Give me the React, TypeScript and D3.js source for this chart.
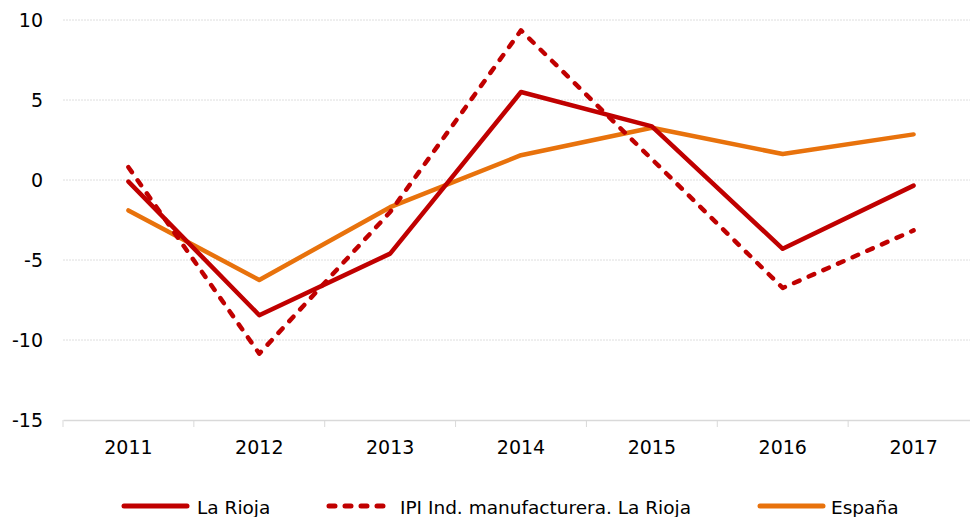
import React, { useEffect, useRef } from 'react';
import * as d3 from 'd3';

const years = ['2011', '2012', '2013', '2014', '2015', '2016', '2017'];
const laRioja = [-0.1, -8.45, -4.6, 5.5, 3.35, -4.3, -0.35];
const ipiManuf = [0.8, -10.85, -2.0, 9.35, 1.3, -6.75, -3.15];
const espana = [-1.9, -6.25, -1.7, 1.55, 3.27, 1.62, 2.85];
const yTicks = [10, 5, 0, -5, -10, -15];

const RED = '#c00000';
const ORANGE = '#e8720c';
const FONT = '"DejaVu Sans", Verdana, sans-serif';

const W = 970;
const H = 517;

const App = () => {
  const ref = useRef<SVGSVGElement | null>(null);

  useEffect(() => {
    const svg = d3.select(ref.current);
    svg.selectAll('*').remove();

    const x = d3.scaleBand().domain(years).range([63, 979]).padding(0);
    const y = d3.scaleLinear().domain([-15, 10]).range([420, 20]);

    // gridlines
    svg.append('g')
      .selectAll('line')
      .data(yTicks.filter(t => t !== -15))
      .enter()
      .append('line')
      .attr('x1', 63)
      .attr('x2', W)
      .attr('y1', d => y(d))
      .attr('y2', d => y(d))
      .attr('stroke', '#dedede')
      .attr('stroke-width', 1)
      .attr('stroke-dasharray', '2,1');

    // y labels
    svg.append('g')
      .selectAll('text')
      .data(yTicks)
      .enter()
      .append('text')
      .attr('x', 43)
      .attr('y', d => y(d))
      .attr('dy', '0.36em')
      .attr('text-anchor', 'end')
      .style('font-family', FONT)
      .style('font-size', '19px')
      .attr('fill', '#000')
      .text(d => d);

    // x axis
    const xAxis = svg.append('g')
      .attr('transform', `translate(0, ${y(-15)})`)
      .call(d3.axisBottom(x).tickSize(0).tickPadding(0));
    xAxis.select('.domain').attr('stroke', '#d9d9d9').attr('stroke-width', 1.5);
    xAxis.selectAll('text')
      .attr('y', 34)
      .attr('dy', null)
      .style('font-family', FONT)
      .style('font-size', '19px')
      .attr('fill', '#000');

    xAxis.selectAll('.bound')
      .data(years.concat(['end']))
      .enter()
      .append('line')
      .attr('class', 'bound')
      .attr('x1', (d, i) => 63 + i * x.bandwidth())
      .attr('x2', (d, i) => 63 + i * x.bandwidth())
      .attr('y1', 0)
      .attr('y2', 7)
      .attr('stroke', '#d9d9d9');

    const line = d3.line<number>()
      .x((d, i) => (x(years[i]) ?? 0) + x.bandwidth() / 2)
      .y(d => y(d));

    const series = [
      { name: 'España', values: espana, color: ORANGE, dash: null },
      { name: 'IPI Ind. manufacturera. La Rioja', values: ipiManuf, color: RED, dash: '6,10' },
      { name: 'La Rioja', values: laRioja, color: RED, dash: null },
    ];

    series.forEach(s => {
      svg.append('path')
        .datum(s.values)
        .attr('d', line)
        .attr('fill', 'none')
        .attr('stroke', s.color)
        .attr('stroke-width', 4.5)
        .attr('stroke-linejoin', 'round')
        .attr('stroke-linecap', 'round')
        .attr('stroke-dasharray', s.dash);
    });

    // legend
    const legend = [
      { name: 'La Rioja', color: RED, dash: null, x1: 124, x2: 187, tx: 197 },
      { name: 'IPI Ind. manufacturera. La Rioja', color: RED, dash: '6,10', x1: 329, x2: 392, tx: 400 },
      { name: 'España', color: ORANGE, dash: null, x1: 760, x2: 823, tx: 831 },
    ];
    const lg = svg.append('g');
    legend.forEach(l => {
      lg.append('line')
        .attr('x1', l.x1)
        .attr('x2', l.x2)
        .attr('y1', 506)
        .attr('y2', 506)
        .attr('stroke', l.color)
        .attr('stroke-width', 5)
        .attr('stroke-linecap', 'round')
        .attr('stroke-dasharray', l.dash);
      lg.append('text')
        .attr('x', l.tx)
        .attr('y', 507)
        .attr('dy', '0.36em')
        .style('font-family', FONT)
        .style('font-size', '18.5px')
        .attr('fill', '#000')
        .text(l.name);
    });
  }, []);

  return (
    <svg
      ref={ref}
      width={W}
      height={H}
      style={{ position: 'absolute', left: 0, top: 0, background: '#fff' }}
    />
  );
};

export default App;
